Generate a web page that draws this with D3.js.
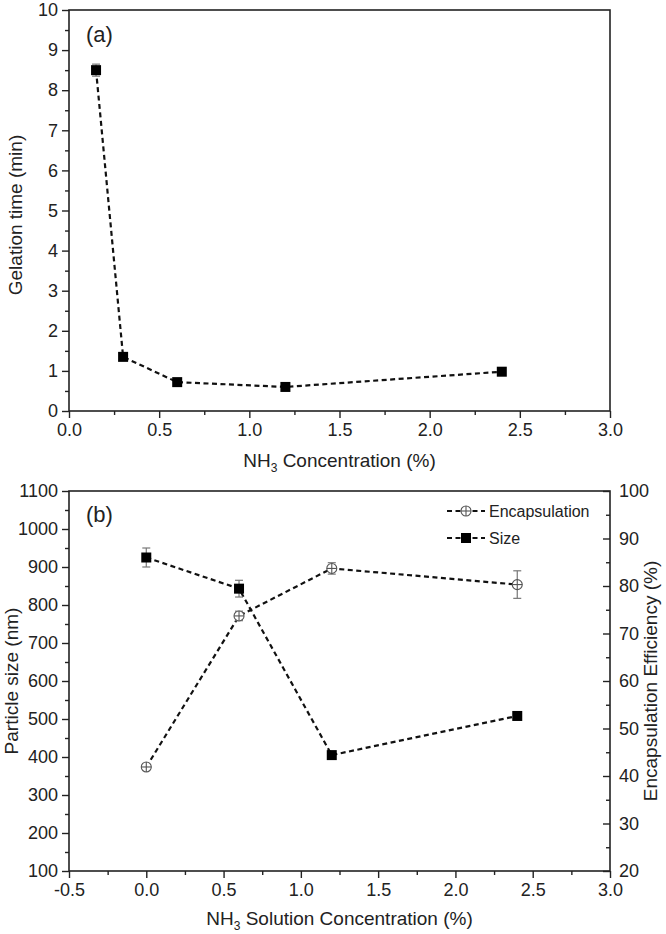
<!DOCTYPE html>
<html><head><meta charset="utf-8">
<script src="https://cdn.jsdelivr.net/npm/d3@7"></script>
<style>body{margin:0;background:#fff}svg text{font-family:"Liberation Sans",Arial,sans-serif;fill:#222}</style>
</head><body>
<svg id="c" width="666" height="934"></svg>
<script>
// Panel (a)
const aX = [0.15, 0.3, 0.6, 1.2, 2.4];
const aY = [8.5, 1.35, 0.72, 0.6, 0.98];
const aErr = [0.15, 0.05, 0.04, 0.03, 0.04];
const aXTicks = [0.0, 0.5, 1.0, 1.5, 2.0, 2.5, 3.0];
const aYTicks = [0,1,2,3,4,5,6,7,8,9,10];
// Panel (b)
const bX = [0.0, 0.6, 1.2, 2.4];
const bSize = [925, 843, 405, 508];
const bSizeErr = [25, 22, 0, 0];
const bEnc = [41.9, 73.7, 83.7, 80.3];
const bEncErr = [0, 1, 1.2, 2.9];
const bXTicks = [-0.5, 0.0, 0.5, 1.0, 1.5, 2.0, 2.5, 3.0];
const bYTicks = [100,200,300,400,500,600,700,800,900,1000,1100];
const bY2Ticks = [20,30,40,50,60,70,80,90,100];

const svg = d3.select("#c");
const L = 69, R = 610;
const fs = 18, tfs = 19;

function fmt1(d){ return d.toFixed(1); }

function styleAxis(a) {
  a.select(".domain").remove();
  a.selectAll("line").attr("stroke","#222").attr("stroke-width",1.4);
  a.selectAll("text").attr("font-size",fs).attr("fill","#222").attr("font-family","Liberation Sans, Arial, sans-serif");
}

function drawAxes(g, x, y, xt, yt, xMinor, yMinor, top, bottom) {
  g.append("rect").attr("x", L).attr("y", top).attr("width", R-L).attr("height", bottom-top)
    .attr("fill","none").attr("stroke","#222").attr("stroke-width",1.6);
  const xa = g.append("g").attr("transform",`translate(0,${bottom})`)
    .call(d3.axisBottom(x).tickValues(xt).tickFormat(fmt1).tickSize(7).tickPadding(5));
  const xm = g.append("g").attr("transform",`translate(0,${bottom})`)
    .call(d3.axisBottom(x).tickValues(xMinor).tickFormat("").tickSize(4));
  const ya = g.append("g").attr("transform",`translate(${L},0)`)
    .call(d3.axisLeft(y).tickValues(yt).tickFormat(d3.format("d")).tickSize(7).tickPadding(4));
  const ym = g.append("g").attr("transform",`translate(${L},0)`)
    .call(d3.axisLeft(y).tickValues(yMinor).tickFormat("").tickSize(4));
  [xa,xm,ya,ym].forEach(styleAxis);
}

function squares(g, x, y, xs, ys) {
  g.selectAll(null).data(xs.map((d,i)=>[d,ys[i]])).enter().append("rect")
    .attr("x", d=>x(d[0])-5).attr("y", d=>y(d[1])-5).attr("width",10).attr("height",10).attr("fill","#000");
}
function errbars(g, x, y, xs, ys, es) {
  xs.forEach((d,i)=>{
    if (!es[i]) return;
    const cx = x(d), y0 = y(ys[i]-es[i]), y1 = y(ys[i]+es[i]);
    g.append("line").attr("x1",cx).attr("x2",cx).attr("y1",y0).attr("y2",y1).attr("stroke","#777").attr("stroke-width",1.2);
    [y0,y1].forEach(yy=>g.append("line").attr("x1",cx-4).attr("x2",cx+4).attr("y1",yy).attr("y2",yy).attr("stroke","#777").attr("stroke-width",1.2));
  });
}
function dashed(g, x, y, xs, ys) {
  g.append("path").datum(xs.map((d,i)=>[d,ys[i]]))
    .attr("d", d3.line().x(d=>x(d[0])).y(d=>y(d[1])))
    .attr("fill","none").attr("stroke","#111").attr("stroke-width",2.2).attr("stroke-dasharray","5,3.5");
}
function circlePlus(g, cx, cy) {
  g.append("circle").attr("cx",cx).attr("cy",cy).attr("r",5).attr("fill","#fff").attr("stroke","#555").attr("stroke-width",1.1);
  g.append("line").attr("x1",cx-5).attr("x2",cx+5).attr("y1",cy).attr("y2",cy).attr("stroke","#555").attr("stroke-width",1.1);
  g.append("line").attr("x1",cx).attr("x2",cx).attr("y1",cy-5).attr("y2",cy+5).attr("stroke","#555").attr("stroke-width",1.1);
}

// ---------- Panel (a)
{
  const top = 10, bottom = 411;
  const x = d3.scaleLinear().domain([0,3]).range([L,R]);
  const y = d3.scaleLinear().domain([0,10]).range([bottom,top]);
  const g = svg.append("g");
  drawAxes(g, x, y, aXTicks, aYTicks, d3.range(0.25,3,0.5), d3.range(0.5,10,1), top, bottom);
  dashed(g, x, y, aX, aY);
  errbars(g, x, y, aX, aY, aErr);
  squares(g, x, y, aX, aY);
  g.append("text").attr("x",86).attr("y",42).attr("font-family","Liberation Serif, Times New Roman, serif").attr("font-size",22).text("(a)");
  g.append("text").attr("transform",`translate(22,215) rotate(-90)`).attr("text-anchor","middle").attr("font-size",tfs).text("Gelation time (min)");
  const t = g.append("text").attr("x",(L+R)/2).attr("y",467).attr("text-anchor","middle").attr("font-size",tfs);
  t.append("tspan").text("NH");
  t.append("tspan").attr("font-size",12).attr("dy",5).text("3");
  t.append("tspan").attr("dy",-5).text(" Concentration (%)");
}

// ---------- Panel (b)
{
  const top = 491, bottom = 871;
  const x = d3.scaleLinear().domain([-0.5,3]).range([L,R]);
  const y = d3.scaleLinear().domain([100,1100]).range([bottom,top]);
  const y2 = d3.scaleLinear().domain([20,100]).range([bottom,top]);
  const g = svg.append("g");
  drawAxes(g, x, y, bXTicks, bYTicks, d3.range(-0.25,3,0.5), d3.range(150,1100,100), top, bottom);
  const ra = g.append("g").attr("transform",`translate(${R},0)`)
    .call(d3.axisRight(y2).tickValues(bY2Ticks).tickSizeInner(-7).tickSizeOuter(0).tickPadding(9));
  const rm = g.append("g").attr("transform",`translate(${R},0)`)
    .call(d3.axisRight(y2).tickValues(d3.range(25,100,10)).tickFormat("").tickSizeInner(-4).tickSizeOuter(0));
  [ra,rm].forEach(styleAxis);
  dashed(g, x, y, bX, bSize);
  dashed(g, x, y2, bX, bEnc);
  errbars(g, x, y, bX, bSize, bSizeErr);
  errbars(g, x, y2, bX, bEnc, bEncErr);
  squares(g, x, y, bX, bSize);
  bX.forEach((d,i)=>circlePlus(g, x(d), y2(bEnc[i])));
  g.append("text").attr("x",86).attr("y",522).attr("font-family","Liberation Serif, Times New Roman, serif").attr("font-size",22).text("(b)");
  g.append("text").attr("transform",`translate(18,${(top+bottom)/2}) rotate(-90)`).attr("text-anchor","middle").attr("font-size",tfs).text("Particle size (nm)");
  g.append("text").attr("transform",`translate(657,${(top+bottom)/2}) rotate(-90)`).attr("text-anchor","middle").attr("font-size",tfs).text("Encapsulation Efficiency (%)");
  const t = g.append("text").attr("x",(L+R)/2).attr("y",925).attr("text-anchor","middle").attr("font-size",tfs);
  t.append("tspan").text("NH");
  t.append("tspan").attr("font-size",12).attr("dy",5).text("3");
  t.append("tspan").attr("dy",-5).text(" Solution Concentration (%)");
  // legend
  const legRows = [["Encapsulation", 511, "enc"], ["Size", 538, "size"]];
  legRows.forEach(([lab, ly, kind])=>{
    g.append("line").attr("x1",447).attr("x2",485).attr("y1",ly).attr("y2",ly)
      .attr("stroke","#111").attr("stroke-width",2.2).attr("stroke-dasharray","5,3.5");
    if (kind==="enc") circlePlus(g, 466, ly);
    else g.append("rect").attr("x",461).attr("y",ly-5).attr("width",10).attr("height",10).attr("fill","#000");
    g.append("text").attr("x",489).attr("y",ly+6).attr("font-size",16).text(lab);
  });
}
</script>
</body></html>
